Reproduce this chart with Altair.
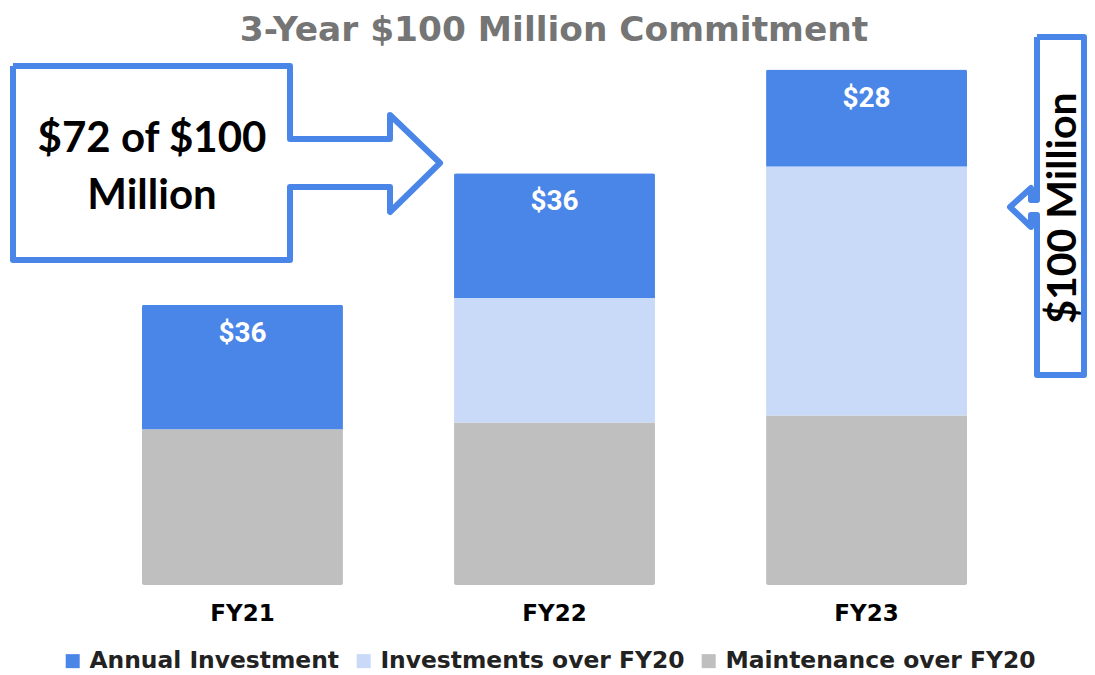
import altair as alt
import pandas as pd

# ---- data ----
years = ["FY21", "FY22", "FY23"]
annual = [36, 36, 28]
invest_over = [0, 36, 72]
maint_over = [45, 47, 49]
series = ["Annual Investment", "Investments over FY20", "Maintenance over FY20"]
colors = ["#4a86e8", "#c9daf8", "#bfbfbf"]
annual_labels = ["$36", "$36", "$28"]
title_text = "3-Year $100 Million Commitment"
left_callout = ["$72 of $100", "Million"]
right_callout = "$100 Million"

rows = []
for i, yr in enumerate(years):
    rows.append({"year": yr, "series": series[2], "value": maint_over[i], "ord": 0})
    rows.append({"year": yr, "series": series[1], "value": invest_over[i], "ord": 1})
    rows.append({"year": yr, "series": series[0], "value": annual[i], "ord": 2})
df = pd.DataFrame(rows)
lab = pd.DataFrame({
    "year": years,
    "total": [a + b + c for a, b, c in zip(annual, invest_over, maint_over)],
    "label": annual_labels,
})

W, H = 1079, 577
YMAX = 166.8
SANS = "DejaVu Sans"

x_scale = alt.Scale(domain=years, range=[134, 959], paddingInner=0.356, paddingOuter=0)
y_scale = alt.Scale(domain=[0, YMAX], nice=False, zero=True)
x_axis = alt.Axis(title=None, labelAngle=0, labelFont=SANS, labelFontWeight="bold",
                  labelFontSize=23, labelColor="#000000", labelBaseline="alphabetic",
                  labelPadding=35, domain=False, ticks=False, tickSize=0, grid=False)

bars = alt.Chart(df).mark_bar(cornerRadius=2).encode(
    x=alt.X("year:N", scale=x_scale, sort=years, axis=x_axis),
    y=alt.Y("value:Q", stack="zero", scale=y_scale, axis=None),
    color=alt.Color("series:N", scale=alt.Scale(domain=series, range=colors),
                    legend=alt.Legend(orient="none", legendX=53, legendY=641,
                                      direction="horizontal", title=None, padding=0,
                                      symbolType="square", symbolSize=196,
                                      symbolStrokeWidth=0, labelLimit=0,
                                      labelFont=SANS, labelFontWeight="bold",
                                      labelFontSize=23.4, labelColor="#222222",
                                      columnPadding=12, labelOffset=5)),
    order=alt.Order("ord:Q", sort="ascending"),
)

labels = alt.Chart(lab).mark_text(
    dy=37, color="white", font="Roboto", fontWeight="bold", fontSize=28, baseline="alphabetic"
).encode(
    x=alt.X("year:N", scale=x_scale, sort=years, axis=x_axis),
    y=alt.Y("total:Q", scale=y_scale, axis=None),
    text="label:N",
)

data_layer = alt.layer(bars, labels)

# ---- annotation shapes (page pixel frame) ----
left_shape = [(13, 66), (290, 66), (290, 139), (390, 139), (390, 115), (440, 163),
              (390, 212), (390, 187), (290, 187), (290, 260), (13, 260), (13, 66)]
right_shape = [(1037, 37), (1084, 37), (1084, 375), (1037, 375), (1037, 215), (1031, 215),
               (1031, 227), (1010, 207), (1031, 188), (1031, 200), (1037, 200), (1037, 37)]
shp = []
for name, pts in [("left", left_shape), ("right", right_shape)]:
    for k, (px, py) in enumerate(pts):
        shp.append({"shape": name, "i": k, "px": px, "py": py})
shp = pd.DataFrame(shp)

ax = alt.Scale(domain=[8, 8 + W], nice=False, zero=False)
ay = alt.Scale(domain=[8 + H, 8], nice=False, zero=False)

outline = alt.Chart(shp).mark_line(color="#4a86e8", strokeWidth=6, strokeJoin="round").encode(
    x=alt.X("px:Q", scale=ax, axis=None),
    y=alt.Y("py:Q", scale=ay, axis=None),
    detail="shape:N",
    order="i:Q",
)

title_df = pd.DataFrame({"t": [title_text], "px": [554], "py": [41]})
title = alt.Chart(title_df).mark_text(
    font=SANS, fontWeight="bold", fontSize=34.4, color="#757575", baseline="alphabetic"
).encode(x=alt.X("px:Q", scale=ax, axis=None), y=alt.Y("py:Q", scale=ay, axis=None), text="t:N")

lc_df = pd.DataFrame({"t": left_callout, "px": [152, 152], "py": [152, 209]})
lc = alt.Chart(lc_df).mark_text(
    font="Lato", fontWeight="bold", fontSize=42, color="#000000", baseline="alphabetic"
).encode(x=alt.X("px:Q", scale=ax, axis=None), y=alt.Y("py:Q", scale=ay, axis=None), text="t:N")

rc_df = pd.DataFrame({"t": [right_callout], "px": [1076], "py": [208]})
rc = alt.Chart(rc_df).mark_text(
    font="Lato", fontWeight="bold", fontSize=41, color="#000000", baseline="alphabetic", angle=270
).encode(x=alt.X("px:Q", scale=ax, axis=None), y=alt.Y("py:Q", scale=ay, axis=None), text="t:N")

annot = alt.layer(outline, title, lc, rc)

chart = alt.layer(data_layer, annot).resolve_scale(x="independent", y="independent").properties(
    width=W, height=H,
    padding={"left": 0, "top": 0, "right": 0, "bottom": 90},
    autosize=alt.AutoSizeParams(type="none"),
).configure_view(stroke=None)

chart.save("out.html", embed_options={"renderer": "svg", "actions": False})
